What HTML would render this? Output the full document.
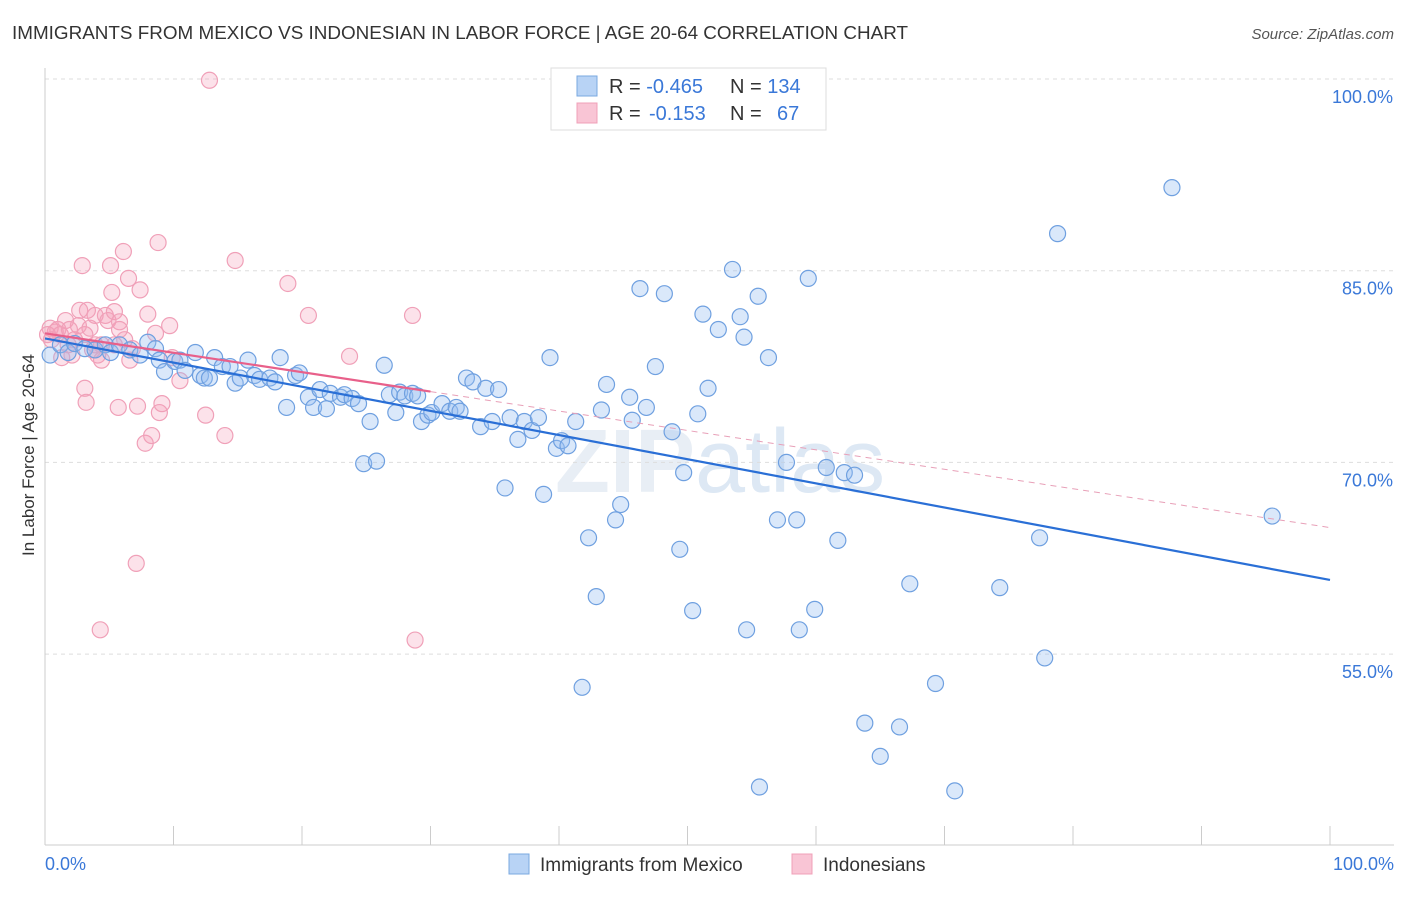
<!DOCTYPE html>
<html><head><meta charset="utf-8"><style>
body{margin:0;background:#fff;font-family:"Liberation Sans",sans-serif}
svg text{font-family:"Liberation Sans",sans-serif}
</style></head><body>
<svg id="chart" width="1406" height="892" xmlns="http://www.w3.org/2000/svg">
<text x="12" y="39" font-size="18" fill="#333" textLength="896" lengthAdjust="spacingAndGlyphs">IMMIGRANTS FROM MEXICO VS INDONESIAN IN LABOR FORCE | AGE 20-64 CORRELATION CHART</text>
<text x="1394" y="39" font-size="15" fill="#555" font-style="italic" text-anchor="end">Source: ZipAtlas.com</text>
<text x="555" y="492" font-size="90" fill="#e8eef5" font-weight="bold">ZIP<tspan fill="#dde8f4" font-weight="normal">atlas</tspan></text>
<g id="grid"></g>
<g id="marks"></g>
<text transform="translate(34,455) rotate(-90)" font-size="17" fill="#333" text-anchor="middle">In Labor Force | Age 20-64</text>
<g>
<rect x="551" y="68" width="275" height="62" fill="#fff" stroke="#ddd"/>
<rect x="577" y="76" width="20" height="20" fill="#b8d3f5" stroke="#7aa8e0"/>
<rect x="577" y="103" width="20" height="20" fill="#f9c5d5" stroke="#f0a0b8"/>
<text x="609" y="93" font-size="20" fill="#333">R = <tspan fill="#3a78d8">-0.465</tspan></text>
<text x="730" y="93" font-size="20" fill="#333">N = <tspan fill="#3a78d8">134</tspan></text>
<text x="609" y="120" font-size="20" fill="#333">R =  <tspan fill="#3a78d8" x="649">-0.153</tspan></text>
<text x="730" y="120" font-size="20" fill="#333">N = <tspan fill="#3a78d8" x="777">67</tspan></text>
</g>
<g>
<rect x="509" y="854" width="20" height="20" fill="#b8d3f5" stroke="#7aa8e0"/>
<text x="540" y="871" font-size="19" fill="#333">Immigrants from Mexico</text>
<rect x="792" y="854" width="20" height="20" fill="#f9c5d5" stroke="#f0a0b8"/>
<text x="823" y="871" font-size="19" fill="#333">Indonesians</text>
</g>
</svg>
<script>
const yTicks=[100,85,70,55];
const xTickLabels=["0.0%","100.0%"];
const blueX=[0.4,1.2,1.8,2.3,3.1,3.9,4.7,5.1,5.8,6.6,7.4,8.0,8.6,8.9,9.3,10.1,10.5,10.9,11.7,12.1,12.4,12.8,13.2,13.8,14.4,14.8,15.2,15.8,16.3,16.7,17.5,17.9,18.3,18.8,19.5,19.8,20.5,20.9,21.4,21.9,22.2,23.0,23.3,23.9,24.4,24.8,25.3,25.8,26.4,26.8,27.3,27.6,28.0,28.6,29.0,29.3,29.8,30.1,30.9,31.5,32.0,32.3,32.8,33.3,33.9,34.3,34.8,35.3,35.8,36.2,36.8,37.3,37.9,38.4,38.8,39.3,39.8,40.2,40.7,41.3,42.3,42.9,41.8,43.7,43.3,44.4,44.8,45.5,45.7,46.3,46.8,47.5,48.2,48.8,49.4,49.7,50.4,50.8,51.2,51.6,52.4,53.5,54.1,54.4,54.6,55.5,55.6,56.3,57.0,57.7,58.5,58.7,59.4,59.9,60.8,61.7,62.2,63.0,63.8,65.0,66.5,67.3,69.3,70.8,74.3,77.4,77.8,78.8,87.7,95.5,47.6];
const blueY=[78.4,79.2,78.6,79.3,78.9,78.8,79.2,78.6,79.2,78.8,78.4,79.4,78.9,78.0,77.1,77.9,78.0,77.2,78.6,76.8,76.6,76.6,78.2,77.5,77.5,76.2,76.6,78.0,76.8,76.5,76.6,76.3,78.2,74.3,76.8,77.0,75.1,74.3,75.7,74.2,75.4,75.1,75.3,75.0,74.6,69.9,73.2,70.1,77.6,75.3,73.9,75.5,75.2,75.4,75.2,73.2,73.7,73.9,74.6,74.0,74.3,74.0,76.6,76.3,72.8,75.8,73.2,75.7,68.0,73.5,71.8,73.2,72.5,73.5,67.5,78.2,71.1,71.7,71.3,73.2,64.1,59.5,52.4,76.1,74.1,65.5,66.7,75.1,73.3,83.6,74.3,77.5,83.2,72.4,63.2,69.2,58.4,73.8,81.6,75.8,80.4,85.1,81.4,79.8,56.9,83.0,44.6,78.2,65.5,70.0,65.5,56.9,84.4,58.5,69.6,63.9,69.2,69.0,49.6,47.0,49.3,60.5,52.7,44.3,60.2,64.1,54.7,87.9,91.5,65.8,100];
const pinkX=[0.4,0.5,0.8,1.2,1.3,1.6,1.8,2.1,2.3,2.6,2.7,2.9,3.1,3.2,3.3,3.5,3.7,3.9,4.1,4.3,4.4,4.7,4.9,5.1,5.2,5.4,5.7,5.8,6.1,6.5,6.6,6.8,7.1,7.2,7.4,7.8,8.0,8.3,8.6,8.8,8.9,9.1,9.7,9.9,10.5,12.5,12.8,14.0,14.8,18.9,20.5,23.7,28.6,28.8,0.2,1.0,1.9,3.1,3.9,5.4,6.2,4.4,5.8];
const pinkY=[80.5,79.6,80.2,80.0,78.2,81.1,79.2,78.4,79.6,80.7,81.9,85.4,75.8,74.7,81.9,80.5,78.8,81.5,78.4,56.9,79.2,81.5,81.1,85.4,83.3,81.8,74.3,81.0,86.5,84.4,78.0,78.9,62.1,74.4,83.5,71.5,81.6,72.1,80.1,87.2,73.9,74.6,80.7,78.2,76.4,73.7,99.9,72.1,85.8,84.0,81.5,78.3,81.5,56.1,80.0,80.4,80.4,80.0,79.2,79.2,79.6,78.0,80.4];
const blueTrend=[79.7,60.8];
const pinkTrend=[80.1,64.9];
const pinkSolidEnd=30;

const NS="http://www.w3.org/2000/svg";
const X=v=>45+v*12.85;
const Y=v=>79+(100-v)*12.78;
function mk(tag,attrs,parent){const e=document.createElementNS(NS,tag);for(const k in attrs)e.setAttribute(k,attrs[k]);parent.appendChild(e);return e;}
const grid=document.getElementById('grid'),marks=document.getElementById('marks');
yTicks.forEach(t=>{
  const l=mk('line',{x1:45,x2:1394,y1:Y(t),y2:Y(t),stroke:'#ddd','stroke-dasharray':'4,4'},grid);
  
  
  const tx=mk('text',{x:1393,y:Y(t)+24,'font-size':18,fill:'#3a78d8','text-anchor':'end'},grid);
  tx.textContent=t.toFixed(1)+'%';
  
  
});
const ax=mk('line',{x1:45,x2:45,y1:68,y2:845,stroke:'#ccc'},grid);


const bx=mk('line',{x1:45,x2:1394,y1:845,y2:845,stroke:'#ccc'},grid);


for(let i=0;i<=10;i++){
  const t=mk('line',{x1:X(i*10),x2:X(i*10),y1:826,y2:845,stroke:'#ccc'},grid);
  
  
}
[[0,'start',45],[100,'end',1394]].forEach((d,i)=>{
  const tx=mk('text',{x:d[2],y:870,'font-size':18,fill:'#3a78d8','text-anchor':d[1]},grid);
  tx.textContent=xTickLabels[i];
  
  
});
pinkX.forEach((x,i)=>{
  const c=mk('circle',{cx:X(x),cy:Y(pinkY[i]),r:8,fill:'rgba(244,160,186,0.3)',stroke:'#f0a0b8','stroke-width':1.2},marks);
  
  
});
blueX.forEach((x,i)=>{
  const c=mk('circle',{cx:X(x),cy:Y(blueY[i]),r:8,fill:'rgba(150,190,240,0.35)',stroke:'#6fa0e0','stroke-width':1.2},marks);
  
  
});
const bl=mk('line',{x1:X(0),y1:Y(blueTrend[0]),x2:X(100),y2:Y(blueTrend[1]),stroke:'#2a6fd6','stroke-width':2.2},marks);


const py=x=>pinkTrend[0]+(pinkTrend[1]-pinkTrend[0])*x/100;
const pl=mk('line',{x1:X(0),y1:Y(py(0)),x2:X(pinkSolidEnd),y2:Y(py(pinkSolidEnd)),stroke:'#e8608a','stroke-width':2.2},marks);


const pd=mk('line',{x1:X(pinkSolidEnd),y1:Y(py(pinkSolidEnd)),x2:X(100),y2:Y(py(100)),stroke:'#e8a0b8','stroke-width':1,'stroke-dasharray':'6,5'},marks);


</script>
</body></html>
